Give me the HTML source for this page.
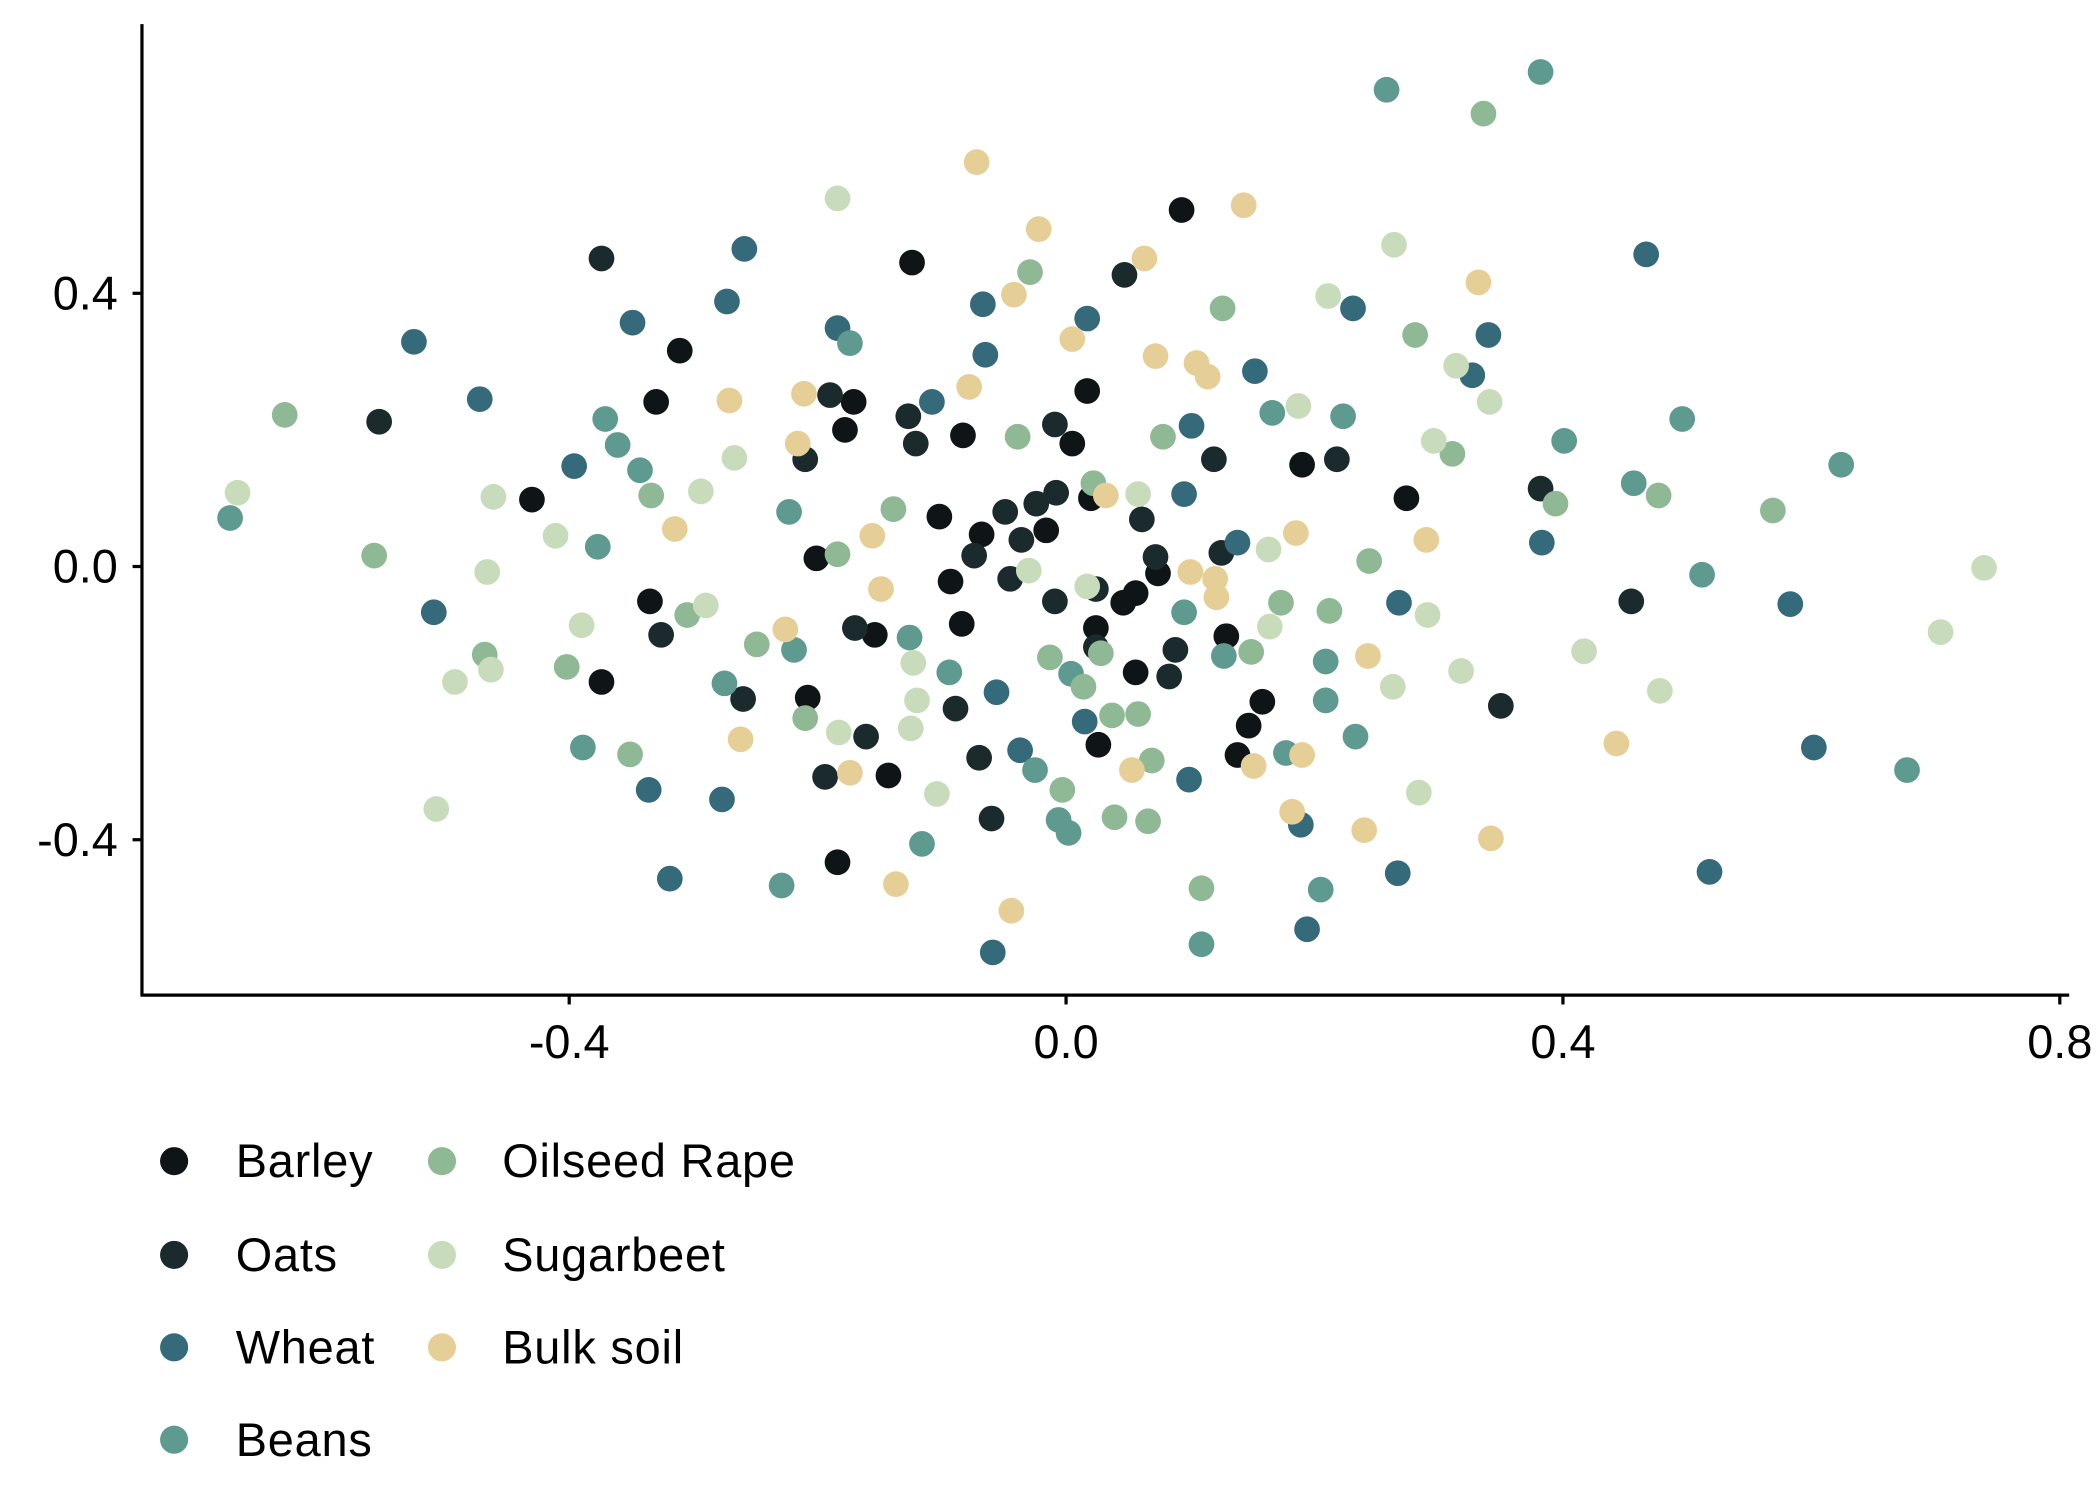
<!DOCTYPE html>
<html><head><meta charset="utf-8"><style>
html,body{margin:0;padding:0;background:#fff;}
svg{display:block;}
text{font-family:"Liberation Sans",Arial,sans-serif;fill:#000;}
</style></head><body>
<svg id="chart" width="2100" height="1500" viewBox="0 0 1568 1120" preserveAspectRatio="none" xmlns="http://www.w3.org/2000/svg">
<g id="axes"></g>
<g id="points"></g>
<g id="legend"></g>
</svg>
<script>
const categories = ["Barley","Oats","Wheat","Beans","Oilseed Rape","Sugarbeet","Bulk soil"];
const colors = ["#0f1416","#1b2a2d","#356a7a","#5f9a90","#8fb894","#c8dcbb","#e6cf96"];
const xTicks = [-0.4,0.0,0.4,0.8];
const yTicks = [-0.4,0.0,0.4];
const xTickLabels = ["-0.4","0.0","0.4","0.8"];
const yTickLabels = ["-0.4","0.0","0.4"];

const barleyX = [0.093,-0.124,-0.311,-0.330,-0.171,-0.178,-0.083,0.017,0.005,0.190,-0.430,0.020,-0.102,0.274,-0.068,-0.016,-0.201,0.074,-0.093,0.056,-0.335,0.046,-0.084,-0.154,0.024,0.129,0.056,-0.374,-0.208,0.158,0.147,0.026,0.138,-0.143,-0.184];
const barleyY = [0.522,0.445,0.316,0.241,0.241,0.200,0.192,0.257,0.180,0.149,0.098,0.100,0.073,0.100,0.047,0.053,0.012,-0.010,-0.022,-0.039,-0.051,-0.053,-0.084,-0.100,-0.090,-0.102,-0.155,-0.169,-0.192,-0.198,-0.233,-0.261,-0.276,-0.306,-0.433];
const oatsX = [-0.374,0.047,-0.553,-0.190,-0.127,-0.121,-0.210,-0.009,0.119,0.218,-0.008,0.061,-0.049,-0.024,0.382,-0.036,-0.074,0.072,0.125,-0.045,0.024,-0.009,0.455,-0.170,-0.326,0.088,0.024,0.083,-0.260,-0.089,0.350,-0.161,-0.070,-0.194,-0.060];
const oatsY = [0.451,0.427,0.212,0.251,0.220,0.180,0.157,0.208,0.157,0.157,0.108,0.069,0.080,0.092,0.114,0.039,0.016,0.014,0.020,-0.018,-0.033,-0.051,-0.051,-0.090,-0.100,-0.122,-0.118,-0.161,-0.194,-0.208,-0.204,-0.249,-0.280,-0.308,-0.369];
const wheatX = [-0.525,-0.472,-0.349,-0.259,-0.273,-0.184,-0.067,-0.065,0.017,-0.108,-0.396,0.101,0.152,0.231,0.340,0.327,0.467,0.383,0.095,0.138,0.268,0.583,-0.509,-0.056,0.015,-0.037,0.099,0.189,0.602,-0.336,-0.277,-0.319,0.267,0.518,-0.059,0.194];
const wheatY = [0.329,0.245,0.357,0.465,0.388,0.349,0.384,0.310,0.363,0.241,0.147,0.206,0.286,0.378,0.339,0.280,0.457,0.035,0.106,0.035,-0.053,-0.055,-0.067,-0.184,-0.227,-0.269,-0.312,-0.378,-0.265,-0.327,-0.341,-0.457,-0.449,-0.447,-0.565,-0.531];
const beansX = [0.258,0.382,-0.174,-0.371,-0.361,-0.343,-0.673,-0.377,-0.223,0.166,0.223,0.401,0.496,0.624,0.457,0.512,-0.126,-0.094,-0.219,-0.275,0.095,0.127,0.004,0.209,-0.389,-0.229,-0.116,-0.025,0.002,-0.006,0.177,0.233,0.209,0.205,0.109,0.677];
const beansY = [0.698,0.724,0.327,0.216,0.178,0.141,0.071,0.029,0.080,0.225,0.220,0.184,0.216,0.149,0.122,-0.012,-0.104,-0.155,-0.122,-0.171,-0.067,-0.131,-0.157,-0.139,-0.265,-0.467,-0.406,-0.298,-0.390,-0.371,-0.273,-0.249,-0.196,-0.473,-0.553,-0.298];
const oilseedX = [0.336,-0.029,0.126,0.281,-0.629,-0.039,0.078,0.311,-0.334,-0.139,0.394,0.477,0.569,0.022,-0.557,-0.184,0.244,0.173,0.212,-0.305,-0.468,-0.402,-0.249,0.149,-0.013,0.014,-0.210,-0.351,0.037,0.058,0.069,-0.003,0.039,0.066,0.109,0.028];
const oilseedY = [0.663,0.431,0.378,0.339,0.222,0.190,0.190,0.165,0.104,0.084,0.092,0.104,0.082,0.122,0.016,0.018,0.008,-0.053,-0.065,-0.071,-0.129,-0.147,-0.114,-0.125,-0.133,-0.176,-0.222,-0.275,-0.218,-0.216,-0.284,-0.327,-0.367,-0.373,-0.471,-0.127];
const sugarX = [-0.184,0.264,0.211,0.314,0.187,0.341,0.296,-0.267,-0.294,-0.667,-0.461,0.058,-0.411,-0.466,-0.030,0.017,-0.290,-0.390,0.164,0.291,0.739,0.704,-0.492,-0.463,-0.123,-0.120,-0.125,-0.183,0.417,0.318,0.263,0.478,-0.507,-0.104,0.284,0.163];
const sugarY = [0.539,0.471,0.396,0.294,0.235,0.241,0.184,0.159,0.110,0.108,0.102,0.106,0.045,-0.008,-0.006,-0.029,-0.057,-0.086,-0.088,-0.071,-0.002,-0.096,-0.169,-0.151,-0.141,-0.196,-0.237,-0.243,-0.124,-0.153,-0.176,-0.182,-0.355,-0.333,-0.331,0.025];
const bulkX = [-0.072,-0.022,0.143,0.063,0.332,-0.042,0.005,0.072,0.105,0.114,-0.078,-0.211,-0.271,-0.216,0.032,-0.315,-0.156,0.185,0.290,0.100,0.120,0.121,-0.149,-0.226,0.243,-0.262,-0.174,0.053,0.151,0.190,0.443,0.182,0.240,0.342,-0.137,-0.044];
const bulkY = [0.592,0.494,0.529,0.451,0.416,0.398,0.333,0.308,0.298,0.278,0.263,0.253,0.243,0.180,0.104,0.055,0.045,0.049,0.039,-0.008,-0.018,-0.045,-0.033,-0.092,-0.131,-0.253,-0.302,-0.298,-0.292,-0.276,-0.259,-0.359,-0.386,-0.398,-0.465,-0.504];

const seriesX = [barleyX,oatsX,wheatX,beansX,oilseedX,sugarX,bulkX];
const seriesY = [barleyY,oatsY,wheatY,beansY,oilseedY,sugarY,bulkY];

const NS = "http://www.w3.org/2000/svg";
const plotL = 106, plotB = 743, plotT = 18, plotR = 1545;
function xScale(v){ return 796 + v * 927.5; }
function yScale(v){ return 423 - v * 510; }
function mk(tag, attrs, parent){ const e=document.createElementNS(NS,tag); for(const k in attrs) e.setAttribute(k,attrs[k]); parent.appendChild(e); return e; }

const axes = document.getElementById('axes');
let yl = mk('line',{x1:plotL,y1:plotT,x2:plotL,y2:plotB+1,stroke:'#000','stroke-width':2.4},axes);


let xl = mk('line',{x1:plotL-1,y1:plotB,x2:plotR,y2:plotB,stroke:'#000','stroke-width':2.4},axes);


xTicks.forEach((t,i)=>{
  const x = xScale(t);
  const tk = mk('line',{x1:x,y1:plotB,x2:x,y2:plotB+7,stroke:'#000','stroke-width':2.4},axes);
  
  
  const tx = mk('text',{x:x,y:plotB+47,'font-size':35,'text-anchor':'middle'},axes);
  tx.textContent = xTickLabels[i];
  
  
});
yTicks.forEach((t,i)=>{
  const y = yScale(t);
  const tk = mk('line',{x1:plotL-7,y1:y,x2:plotL,y2:y,stroke:'#000','stroke-width':2.4},axes);
  
  
  const tx = mk('text',{x:plotL-18,y:y+12,'font-size':35,'text-anchor':'end'},axes);
  tx.textContent = yTickLabels[i];
  
  
});

const pts = document.getElementById('points');
seriesX.forEach((xs,s)=>{
  xs.forEach((xv,i)=>{
    const c = mk('circle',{cx:xScale(xv),cy:yScale(seriesY[s][i]),r:9.6,fill:colors[s]},pts);
    
    
  });
});

const leg = document.getElementById('legend');
const legCol = [130,330], legTxt=[176,375], legRow=[867,937,1006,1075];
categories.forEach((cat,i)=>{
  const col = i<4?0:1, row = i<4?i:i-4;
  const g = mk('g',{},leg);
  
  
  mk('circle',{cx:legCol[col],cy:legRow[row],r:10.5,fill:colors[i]},g);
  const t = mk('text',{x:legTxt[col],y:legRow[row]+12,'font-size':35,'letter-spacing':0.6},g);
  t.textContent = cat;
});
</script>
</body></html>
